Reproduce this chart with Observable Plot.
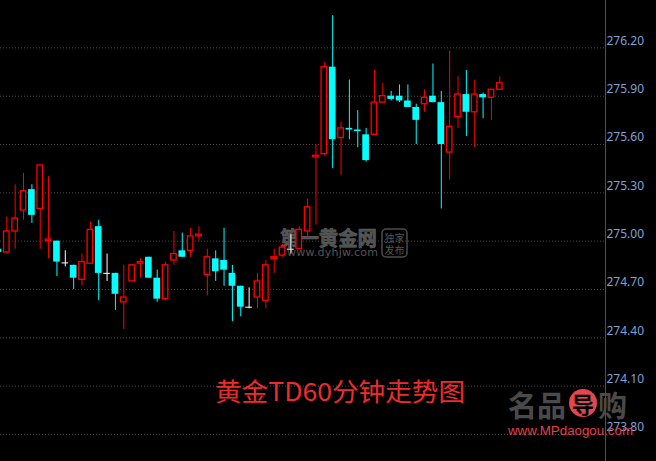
<!DOCTYPE html>
<html><head><meta charset="utf-8">
<script src="https://cdn.jsdelivr.net/npm/d3@7"></script>
<script src="https://cdn.jsdelivr.net/npm/@observablehq/plot@0.6"></script>
<style>html,body{margin:0;padding:0;background:#000;overflow:hidden}</style>
</head><body><div id="chart"></div>
<script>
// 60-minute candles, oldest first
const opens  = [274.95,274.93,275.06,275.19,275.32,275.20,275.00,275.00,274.865,274.85,
                274.76,274.86,275.09,274.80,274.80,274.62,274.75,274.86,274.90,274.77,
                274.64,274.88,274.94,274.94,275.03,274.79,274.89,274.88,274.80,274.72,
                274.59,274.65,274.63,274.89,274.91,274.95,274.95,275.06,275.52,275.54,
                276.08,275.64,275.70,275.69,275.66,275.66,275.86,275.90,275.90,275.87,
                275.83,275.85,275.90,275.86,275.55,275.77,275.91,275.80,275.91,275.89,275.94];
const highs  = [274.95,275.15,275.35,275.42,275.35,275.47,275.40,275.00,274.94,274.85,
                274.92,275.12,275.13,274.92,274.80,274.85,274.85,274.89,274.90,274.82,
                274.87,275.06,275.05,275.08,275.09,274.95,274.94,275.08,274.85,274.72,
                274.71,274.80,274.88,274.95,274.98,275.04,275.09,275.26,275.60,276.11,
                276.40,275.74,276.00,275.81,275.70,276.06,275.98,275.93,275.97,275.97,
                275.85,275.94,276.10,275.93,276.18,276.02,276.06,276.00,275.92,275.94,276.02];
const lows   = [274.93,274.92,274.95,275.13,275.11,274.95,274.89,274.78,274.84,274.70,
                274.72,274.86,274.63,274.75,274.57,274.45,274.75,274.77,274.77,274.62,
                274.63,274.85,274.90,274.90,275.00,274.66,274.75,274.72,274.50,274.53,
                274.58,274.58,274.58,274.80,274.90,274.92,274.95,275.02,275.10,275.53,
                275.45,275.41,275.63,275.58,275.49,275.66,275.86,275.87,275.86,275.83,
                275.60,275.80,275.86,275.20,275.38,275.70,275.65,275.58,275.76,275.75,275.94];
const closes = [274.93,275.06,275.14,275.31,275.16,275.47,275.01,274.87,274.865,274.77,
                274.87,275.07,274.80,274.80,274.67,274.65,274.85,274.87,274.77,274.64,
                274.85,274.92,274.90,275.03,275.04,274.90,274.81,274.82,274.72,274.59,
                274.59,274.75,274.85,274.90,274.96,274.95,275.07,275.21,275.53,276.08,
                275.63,275.70,275.69,275.68,275.50,275.86,275.90,275.88,275.87,275.83,
                275.75,275.89,275.86,275.60,275.71,275.91,275.80,275.91,275.89,275.94,275.98];
const yTicks = [273.80,274.10,274.40,274.70,275.00,275.30,275.60,275.90,276.20];
const titleText = "黄金TD60分钟走势图";

const bars = opens.map((o, i) => ({i, open: o, high: highs[i], low: lows[i], close: closes[i]}));
const up = bars.filter(d => d.close > d.open);
const down = bars.filter(d => d.close < d.open);
const flat = bars.filter(d => d.close === d.open);

const xDomain = [0.245, 72.65];
const yDomain = [273.632, 276.494];

const chart = Plot.plot({
  width: 656, height: 461,
  marginLeft: 0, marginRight: 51, marginTop: 0, marginBottom: 0,
  style: {background: "#000", fontFamily: "'Noto Sans', 'DejaVu Sans', sans-serif"},
  x: {type: "linear", domain: xDomain, axis: null},
  y: {type: "linear", domain: yDomain, axis: null},
  marks: [
    Plot.ruleY(yTicks, {stroke: "#4a4a4a", strokeDasharray: "1,2"}),
    Plot.ruleX(up, {x: "i", y1: "low", y2: "high", stroke: "#ff0000", strokeWidth: 1}),
    Plot.ruleX(down, {x: "i", y1: "low", y2: "high", stroke: "#00ffff", strokeWidth: 1}),
    Plot.ruleX(flat, {x: "i", y1: "low", y2: "high", stroke: "#ffffff", strokeWidth: 1}),
    Plot.rect(up, {x1: d => d.i - 0.33, x2: d => d.i + 0.33, y1: "open", y2: "close", fill: "#000", stroke: "#ff0000", strokeWidth: 1.3}),
    Plot.rect(down, {x1: d => d.i - 0.4, x2: d => d.i + 0.4, y1: "open", y2: "close", fill: "#00ffff"}),
    Plot.ruleY(flat, {y: "open", x1: d => d.i - 0.4, x2: d => d.i + 0.4, stroke: "#ffffff", strokeWidth: 1}),
    Plot.ruleX([xDomain[1]], {stroke: "#4a5262"}),
    Plot.text(yTicks, {y: d => d, text: d => d.toFixed(2), frameAnchor: "right", textAnchor: "start", dx: 1, dy: -7, fill: "#7fa3d6", fontSize: 12})
  ]
});
document.getElementById("chart").appendChild(chart);

const svg = d3.select(chart);
const cjk = "'Noto Sans CJK SC', 'Noto Sans', sans-serif";
function txt(g, x, y, s, o) {
  const t = g.append("text").attr("x", x).attr("y", y)
    .attr("text-anchor", o.anchor || "start").attr("dominant-baseline", "central")
    .attr("font-family", o.family || cjk).attr("font-size", o.size)
    .attr("fill", o.fill).text(s);
  if (o.weight) t.attr("font-weight", o.weight);
  if (o.len) t.attr("textLength", o.len).attr("lengthAdjust", o.adjust || "spacingAndGlyphs");
  if (o.stroke) t.attr("stroke", o.stroke).attr("stroke-width", o.sw || 0.6);
  return t;
}

// watermark (under the candles)
const wm = svg.insert("g", "g").attr("opacity", 0.9);
txt(wm, 280, 237, "第一黄金网", {size: 20, weight: "bold", len: 97, fill: "#595959", stroke: "#6e6e6e"});
txt(wm, 287, 252, "www.dyhjw.com", {size: 11, family: "'DejaVu Sans', sans-serif", len: 91, adjust: "spacing", fill: "#5e5e5e"});
wm.append("rect").attr("x", 382).attr("y", 229).attr("width", 25).attr("height", 28).attr("rx", 4)
  .attr("fill", "none").attr("stroke", "#555").attr("stroke-width", 1.5);
txt(wm, 394.5, 237, "独家", {size: 10, anchor: "middle", fill: "#5e5e5e"});
txt(wm, 394.5, 249, "发布", {size: 10, anchor: "middle", fill: "#5e5e5e"});

// title
txt(svg, 215, 390, titleText, {size: 25, len: 250, fill: "#f02a2a"});

// bottom-right logo
const logo = svg.append("g");
txt(logo, 508, 404, "名品", {size: 29, weight: "bold", len: 58, fill: "#4a4a4a"});
logo.append("circle").attr("cx", 583).attr("cy", 403).attr("r", 14).attr("fill", "#e4454f");
txt(logo, 583, 403, "导", {size: 22, weight: "bold", anchor: "middle", fill: "#000"});
txt(logo, 598, 404, "购", {size: 29, weight: "bold", fill: "#4a4a4a"});
txt(logo, 508, 430, "www.MPdaogou.com", {size: 13, family: "'Liberation Sans', sans-serif", len: 125, fill: "#e0404c"});
</script>
</body></html>
